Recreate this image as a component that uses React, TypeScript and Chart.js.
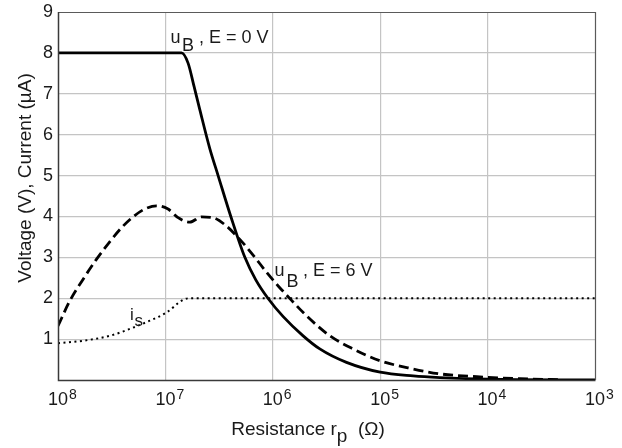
import React, { useEffect, useRef } from 'react';
import { Chart, registerables } from 'chart.js';

Chart.register(...registerables);

// ---- data ----
const xTickValues = [1e8, 1e7, 1e6, 1e5, 1e4, 1e3];
const xTickExponents = ['8', '7', '6', '5', '4', '3'];
const yTickLabels = ['1', '2', '3', '4', '5', '6', '7', '8', '9'];

// u_B, E = 0 V (solid)
const uB0R = [1e8, 7.08e6, 6.15e6, 5.41e6, 4.79e6, 3.86e6, 3.23e6, 2.46e6, 1.82e6, 1.44e6, 1.11e6, 8.0e5, 5.22e5, 3.65e5, 2.06e5, 1.0e5, 4.93e4, 2.78e4, 1e4, 1e3];
const uB0V = [8, 8, 7.75, 7.18, 6.62, 5.66, 5.0, 4.0, 3.0, 2.45, 2.0, 1.55, 1.08, 0.76, 0.43, 0.19, 0.1, 0.06, 0.02, 0];

// u_B, E = 6 V (dashed)
const uB6R = [1e8, 7.78e7, 5.85e7, 4.39e7, 3.3e7, 2.57e7, 2.0e7, 1.56e7, 1.21e7, 9.44e6, 7.62e6, 5.93e6, 4.61e6, 3.6e6, 2.8e6, 2.03e6, 1.52e6, 1.14e6, 8.91e5, 7.45e5, 4.85e5, 2.94e5, 1.79e5, 1.0e5, 4.93e4, 2.78e4, 1.26e4, 5.0e3, 2.1e3];
const uB6V = [1.32, 1.93, 2.46, 2.95, 3.38, 3.72, 3.99, 4.18, 4.26, 4.18, 3.97, 3.86, 3.99, 3.97, 3.8, 3.44, 3.05, 2.63, 2.3, 2.08, 1.57, 1.08, 0.76, 0.47, 0.27, 0.15, 0.08, 0.03, 0.01];

// i_s (dotted)
const isR = [1e8, 5.85e7, 3.3e7, 2.0e7, 1.4e7, 9.77e6, 6.84e6, 5.93e6, 1e3];
const isV = [0.9, 0.96, 1.08, 1.28, 1.45, 1.65, 1.96, 2.0, 2.0];

const FONT = '"Liberation Sans", Arial, sans-serif';
const TEXT = '#1a1a1a';
const GRID = '#c4c4c4';

const toPoints = (r: number[], v: number[]) => r.map((x, i) => ({ x, y: v[i] }));

const overlay = {
  id: 'overlay',
  afterDraw(chart: any) {
    const ctx = chart.ctx as CanvasRenderingContext2D;
    const { left, right, top, bottom } = chart.chartArea;
    const xs = chart.scales.x;
    ctx.save();

    // frame
    ctx.strokeStyle = '#5a5a5a';
    ctx.lineWidth = 1.2;
    ctx.beginPath();
    ctx.moveTo(left, top + 0.5);
    ctx.lineTo(right + 0.5, top + 0.5);
    ctx.lineTo(right + 0.5, bottom);
    ctx.stroke();
    ctx.strokeStyle = '#3a3a3a';
    ctx.lineWidth = 1.5;
    ctx.beginPath();
    ctx.moveTo(left + 0.5, top);
    ctx.lineTo(left + 0.5, bottom + 0.5);
    ctx.lineTo(right + 0.5, bottom + 0.5);
    ctx.stroke();

    ctx.fillStyle = TEXT;
    ctx.textBaseline = 'alphabetic';

    // x tick labels 10^n
    xTickValues.forEach((v, i) => {
      const px = xs.getPixelForValue(v);
      ctx.font = `18px ${FONT}`;
      ctx.textAlign = 'center';
      ctx.fillText('10', px, 405);
      const w = ctx.measureText('10').width;
      ctx.font = `14px ${FONT}`;
      ctx.textAlign = 'left';
      ctx.fillText(xTickExponents[i], px + w / 2 + 1, 399);
    });

    // x axis title with subscript
    ctx.textAlign = 'left';
    ctx.font = `19px ${FONT}`;
    const a = 'Resistance r';
    const b = 'p';
    const c = '  (Ω)';
    const wa = ctx.measureText(a).width;
    const wb = ctx.measureText(b).width;
    const wc = ctx.measureText(c).width;
    const sx = 308 - (wa + wb + wc) / 2;
    ctx.fillText(a, sx, 435);
    ctx.fillText(b, sx + wa, 442);
    ctx.fillText(c, sx + wa + wb, 435);

    // y axis title
    ctx.save();
    ctx.translate(30.5, 178);
    ctx.rotate(-Math.PI / 2);
    ctx.textAlign = 'center';
    ctx.font = `19px ${FONT}`;
    ctx.fillText('Voltage (V), Current (µA)', 0, 0);
    ctx.restore();

    // annotations
    ctx.font = `18px ${FONT}`;
    ctx.textAlign = 'left';
    ctx.fillText('u', 170.5, 42.7);
    ctx.fillText('B', 182, 50.5);
    ctx.fillText(' , E = 0 V', 194, 42.7);

    ctx.fillText('u', 274.5, 276);
    ctx.fillText('B', 286.5, 286.7);
    ctx.fillText(' , E = 6 V', 298, 276);

    ctx.font = `17px ${FONT}`;
    ctx.fillText('i', 130, 320);
    ctx.fillText('s', 134.5, 325.5);

    ctx.restore();
  },
};

export default function App() {
  const ref = useRef<HTMLCanvasElement | null>(null);
  useEffect(() => {
    if (!ref.current) return;
    const chart = new Chart(ref.current, {
      type: 'line',
      data: {
        datasets: [
          {
            label: 'uB, E = 0 V',
            data: toPoints(uB0R, uB0V),
            borderColor: '#000',
            borderWidth: 2.8,
            pointRadius: 0,
            cubicInterpolationMode: 'monotone',
            fill: false,
          },
          {
            label: 'uB, E = 6 V',
            data: toPoints(uB6R, uB6V),
            borderColor: '#000',
            borderWidth: 2.8,
            borderDash: [10, 5],
            pointRadius: 0,
            cubicInterpolationMode: 'monotone',
            fill: false,
          },
          {
            label: 'is',
            data: toPoints(isR, isV),
            borderColor: '#000',
            borderWidth: 2,
            borderDash: [2, 3.5],
            pointRadius: 0,
            cubicInterpolationMode: 'monotone',
            fill: false,
          },
        ],
      },
      options: {
        animation: false,
        responsive: false,
        devicePixelRatio: 1,
        layout: { padding: { top: 12, right: 27, left: 0, bottom: 0 } },
        plugins: { legend: { display: false }, tooltip: { enabled: false } },
        scales: {
          x: {
            type: 'logarithmic',
            reverse: true,
            min: 1e3,
            max: 1e8,
            afterBuildTicks: (scale: any) => {
              scale.ticks = xTickValues.map((value) => ({ value }));
            },
            afterFit: (scale: any) => {
              scale.height = 68;
            },
            ticks: { display: false },
            border: { display: false },
            grid: {
              drawTicks: false,
              lineWidth: 1.2,
              color: (ctx: any) =>
                ctx.tick && (ctx.tick.value === 1e8 || ctx.tick.value === 1e3) ? 'rgba(0,0,0,0)' : GRID,
            },
          },
          y: {
            type: 'linear',
            min: 0,
            max: 9,
            afterFit: (scale: any) => {
              scale.width = 58;
              scale.paddingTop = 0;
              scale.paddingBottom = 0;
            },
            ticks: {
              stepSize: 1,
              padding: 5,
              color: TEXT,
              font: { family: FONT, size: 18, lineHeight: 1 },
              callback: (v: any) => (v >= 1 ? yTickLabels[Number(v) - 1] : ''),
            },
            border: { display: false },
            grid: {
              drawTicks: false,
              lineWidth: 1.2,
              color: (ctx: any) =>
                ctx.tick && (ctx.tick.value === 0 || ctx.tick.value === 9) ? 'rgba(0,0,0,0)' : GRID,
            },
          },
        },
      },
      plugins: [overlay],
    });
    return () => chart.destroy();
  }, []);
  return (
    <div style={{ position: 'absolute', left: 0, top: 0, width: 622, height: 448, background: '#fff' }}>
      <canvas ref={ref} width={622} height={448} />
    </div>
  );
}
